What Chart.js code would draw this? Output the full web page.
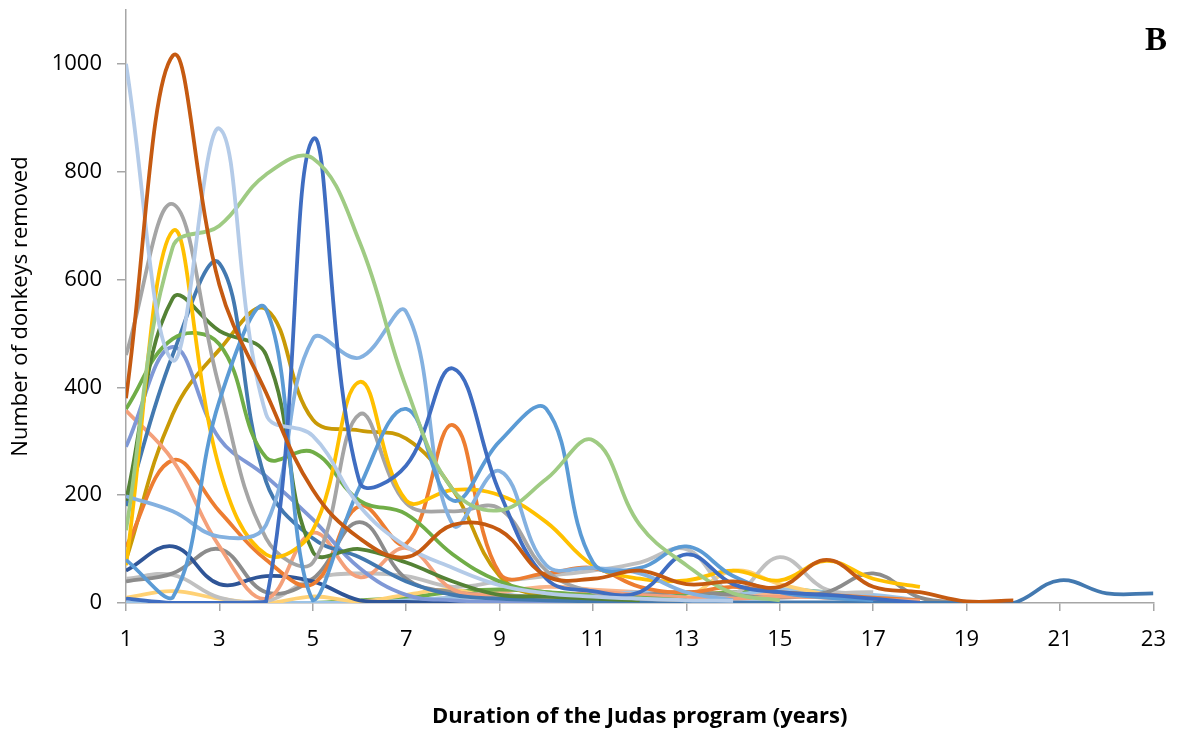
<!DOCTYPE html>
<html>
<head>
<meta charset="utf-8">
<script src="https://cdn.jsdelivr.net/npm/chart.js@4"></script>
<style>
  body { margin: 0; background: #fff; }
  #wrap { position: relative; width: 1182px; height: 731px; }
  #panel { position: absolute; left: 1145px; top: 21px; font: bold 33px "Liberation Serif", serif; color: #000; }
</style>
</head>
<body>
<div id="wrap">
  <canvas id="myChart" width="1182" height="731"></canvas>
  <div id="panel">B</div>
</div>
<script>
// x categories (years of the program)
var years = [1,2,3,4,5,6,7,8,9,10,11,12,13,14,15,16,17,18,19,20,21,22,23];
var yTicks = [0, 200, 400, 600, 800, 1000];

// donkeys removed per year, one array per program
var brown      = [380,1015,590,390,210,120,85,145,135,50,45,60,35,40,30,80,30,20,3,5];
var paleBlue   = [1000,450,880,350,310,180,105,65,33,18,12,8,5,4];
var lightGreen = [135,660,700,795,825,670,400,210,172,230,302,145,70,18,5];
var blue       = [8,0,0,3,860,225,255,435,205,45,22,20,90,35,20,15,8,0];
var midBlue    = [80,10,375,545,5,215,360,190,300,360,75,65,105,50,20,10,5];
var lightBlue  = [198,170,123,145,490,455,540,145,245,70,65,55,20,5];
var gold       = [70,690,250,90,135,410,190,210,200,150,70,45,42,60,42,78,45,30];
var gray       = [460,740,400,120,75,350,185,170,175,60,20,8,5];
var darkGreen  = [190,565,505,460,95,100,75,40,15,12,8,5];
var green      = [360,490,480,270,280,190,165,90,40,20,15,10,5];
var steel      = [180,460,630,225,120,85,40,15,8,5,3,2,1,1,1,1,1,0,0,0,42,18,18];
var periwinkle = [290,475,305,235,155,65,15,5,2,0,0,0];
var salmon     = [357,265,105,8,130,48,102,25,15,10,20,15,10,8,12,10,6,4];
var orange     = [104,265,170,80,35,180,110,330,55,55,65,30,20,30,20,15,10,5];
var darkGold   = [80,350,470,545,340,320,305,210,50,10,5,3];
var navy       = [60,105,35,50,40,5,2,0,0,0];
var darkGray   = [40,55,100,20,45,150,45,20,15,10,10,15,20,15,10,20,55,10,0];
var lightGray  = [45,52,10,3,45,55,50,30,40,50,60,75,100,20,85,25,20];
var paleYellow = [10,22,8,0,12,3,15,25,5,3,2,3,10,60,35,15];
var lowA       = [0,0,0,0,0,0,5,10,15,10,12,20,10,15,25,20,15,5];
var lowB       = [0,0,0,0,0,5,10,20,25,20,15,10,15,20,25,20,10,5];
var lowC       = [0,0,0,0,0,0,5,10,20,30,25,20,15,20,15,10,5,2];

var series = [
    [brown, '#C55A11'], [paleBlue, '#B4CBE8'], [lightGreen, '#9FCB83'], [blue, '#3F6DC1'],
    [midBlue, '#5B9BD5'], [lightBlue, '#84B1E0'], [gold, '#FFC000'], [gray, '#A5A5A5'],
    [darkGreen, '#548235'], [green, '#70AD47'], [steel, '#4379B0'], [periwinkle, '#7F98D6'],
    [salmon, '#F4A07A'], [orange, '#ED7D31'], [darkGold, '#C99A06'], [navy, '#2F5597'],
    [darkGray, '#8C8C8C'], [lightGray, '#C0C0C0'], [paleYellow, '#FFD175'],
    [lowA, '#9DC3E6'], [lowB, '#70AD47'], [lowC, '#F8B48A']
];

var datasets = series.map(function (s) {
    return {
        data: s[0].map(function (v, i) { return { x: years[i], y: v }; }),
        borderColor: s[1],
        borderWidth: 3.8,
        pointRadius: 0,
        tension: 0.4,
        fill: false
    };
});

var axisColor = '#A6A6A6';
var ctx = document.getElementById('myChart').getContext('2d');
var myChart = new Chart(ctx, {
    type: 'line',
    data: { datasets: datasets },
    options: {
        responsive: false,
        animation: false,
        layout: { padding: { top: 10, right: 19, left: 0, bottom: 0 } },
        plugins: { legend: { display: false }, tooltip: { enabled: false } },
        scales: {
            x: {
                type: 'linear',
                min: 1,
                max: 23,
                afterBuildTicks: function (scale) {
                    scale.ticks = years.filter(function (y) { return y % 2 === 1; }).map(function (v) { return { value: v }; });
                },
                afterFit: function (scale) { scale.height = 128; },
                border: { color: axisColor, width: 1.5 },
                grid: { drawOnChartArea: false, drawTicks: true, tickLength: 8, color: axisColor, lineWidth: 1.5 },
                ticks: { color: '#000', padding: 16, maxRotation: 0, font: { family: 'Open Sans', size: 22 } },
                title: {
                    display: true,
                    text: 'Duration of the Judas program (years)',
                    color: '#000',
                    padding: { top: 0, bottom: 1 },
                    font: { family: 'Open Sans', size: 22, weight: 'bold' }
                }
            },
            y: {
                min: 0,
                max: 1100,
                afterBuildTicks: function (scale) {
                    scale.ticks = yTicks.map(function (v) { return { value: v }; });
                },
                afterFit: function (scale) {
                    scale.width = 126;
                    scale.paddingTop = 0;
                    scale.paddingBottom = 0;
                },
                border: { color: axisColor, width: 1.5 },
                grid: { drawOnChartArea: false, drawTicks: true, tickLength: 9, color: axisColor, lineWidth: 1.5 },
                ticks: {
                    color: '#000',
                    padding: 15,
                    font: { family: 'Open Sans', size: 22 },
                    callback: function (v) { return String(v); }
                },
                title: {
                    display: true,
                    text: 'Number of donkeys removed',
                    color: '#000',
                    padding: { top: 8, bottom: 0 },
                    font: { family: 'Open Sans', size: 22 }
                }
            }
        }
    }
});
</script>
</body>
</html>
